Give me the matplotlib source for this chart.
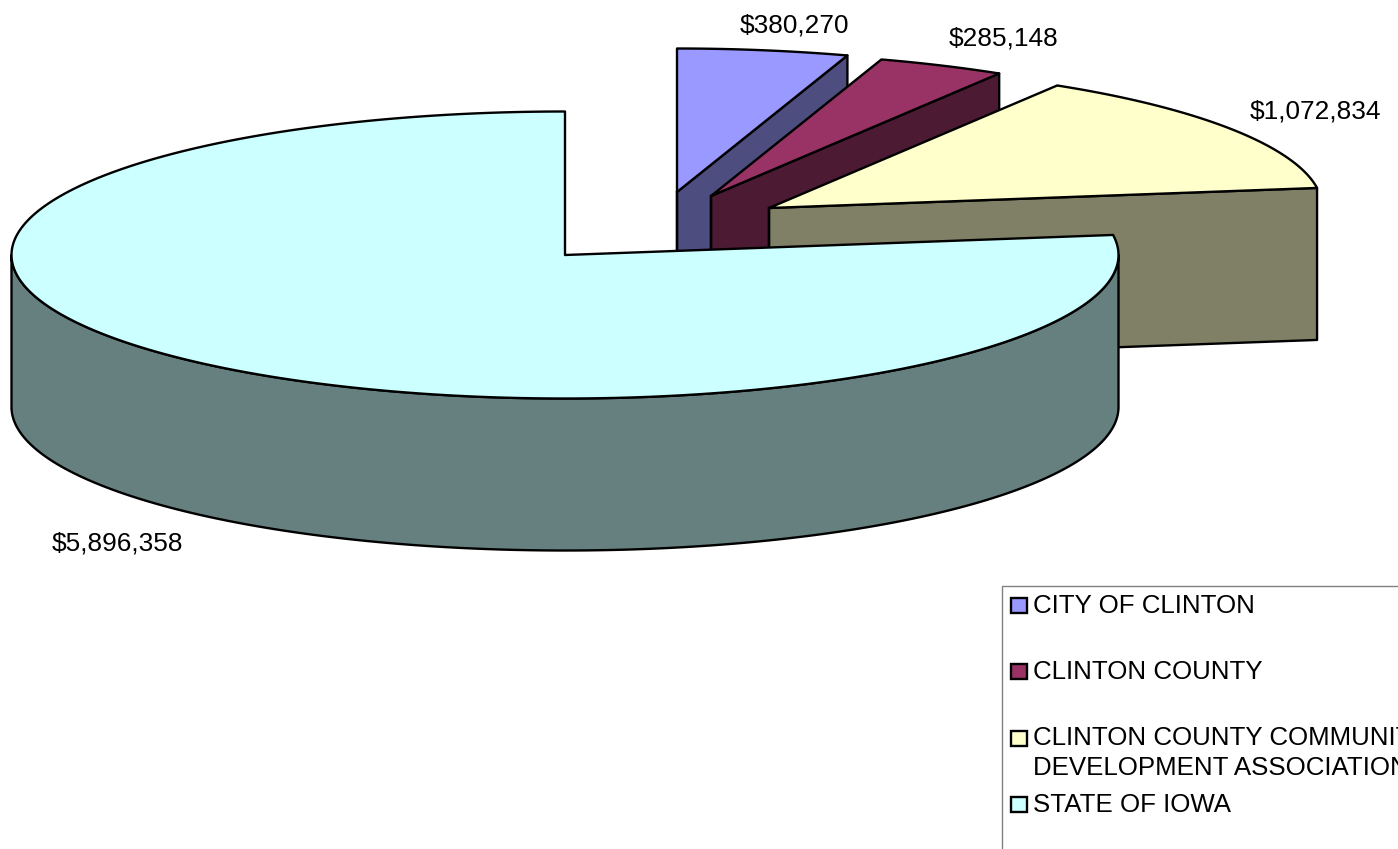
import numpy as np
import matplotlib
matplotlib.use("Agg")
import matplotlib.pyplot as plt
from matplotlib.patches import Polygon, Rectangle

plt.rcParams['font.family'] = ['Liberation Sans', 'DejaVu Sans']

categories = ["CITY OF CLINTON", "CLINTON COUNTY",
              "CLINTON COUNTY COMMUNITY\nDEVELOPMENT ASSOCIATION", "STATE OF IOWA"]
values = [380270, 285148, 1072834, 5896358]
value_labels = ["$380,270", "$285,148", "$1,072,834", "$5,896,358"]
top_colors = ["#9999FF", "#993366", "#FFFFCC", "#CCFFFF"]
side_colors = ["#4D4D80", "#4D1A33", "#808066", "#668080"]

# pie geometry (pixels)
RX, RY, DEPTH = 553.5, 143.5, 152
centers = [(677, 192), (711, 196), (769, 208), (565, 255)]
label_pos = [(740, 25), (949, 38), (1250, 111), (52, 543)]
legend_y = [605, 671, 738, 804]
legend_text_y = [606, 672, 753, 805]
LW = 1.7
FS_VALUE = 18.9
FS_LEGEND = 18.6

fig = plt.figure(figsize=(13.98, 8.49), dpi=100)
ax = fig.add_axes([0, 0, 1, 1])
ax.set_xlim(0, 1398)
ax.set_ylim(849, 0)
ax.axis('off')


def arc(c, a0, a1):
    t = np.radians(np.linspace(a0, a1, 400))
    return np.column_stack([c[0] + RX * np.sin(t), c[1] - RY * np.cos(t)])


edges = np.concatenate([[0], np.cumsum(values)]) / np.sum(values) * 360
for i, c in enumerate(centers):
    a0, a1 = edges[i], edges[i + 1]
    top = arc(c, a0, a1)
    # radial side at the end of the slice
    end = top[-1]
    if a1 < 180:
        ax.add_patch(Polygon([c, end, (end[0], end[1] + DEPTH), (c[0], c[1] + DEPTH)],
                             closed=True, fc=side_colors[i], ec='black', lw=LW, joinstyle='round', zorder=2 + i))
        ax.plot([c[0], c[0]], [c[1], c[1] + DEPTH], color='black', lw=LW, zorder=2 + i)
    # outer curved wall, facing the viewer
    s0, s1 = max(a0, 90), min(a1, 270)
    if s1 > s0:
        wall = arc(c, s0, s1)
        lower = wall[::-1] + [0, DEPTH]
        ax.add_patch(Polygon(np.vstack([wall, lower]), closed=True,
                             fc=side_colors[i], ec='black', lw=LW, joinstyle='round', zorder=2 + i))
    ax.add_patch(Polygon(np.vstack([[c], top]), closed=True,
                         fc=top_colors[i], ec='black', lw=LW, joinstyle='round', zorder=2 + i))

for (x, y), s in zip(label_pos, value_labels):
    ax.text(x, y, s, fontsize=FS_VALUE, ha='left', va='center', color='black')

# legend, running past the right and bottom edges as in the source image
ax.add_patch(Rectangle((1002, 586), 500, 400, fc='white', ec='#808080', lw=1, zorder=1))
for name, col, y, ty in zip(categories, top_colors, legend_y, legend_text_y):
    ax.add_patch(Rectangle((1011, y - 7.5), 16, 15, fc=col, ec='black', lw=LW, zorder=3))
    ax.text(1033, ty, name, fontsize=FS_LEGEND, ha='left', va='center', color='black',
            linespacing=1.27, zorder=3)

fig.savefig("out.png", dpi=100)
